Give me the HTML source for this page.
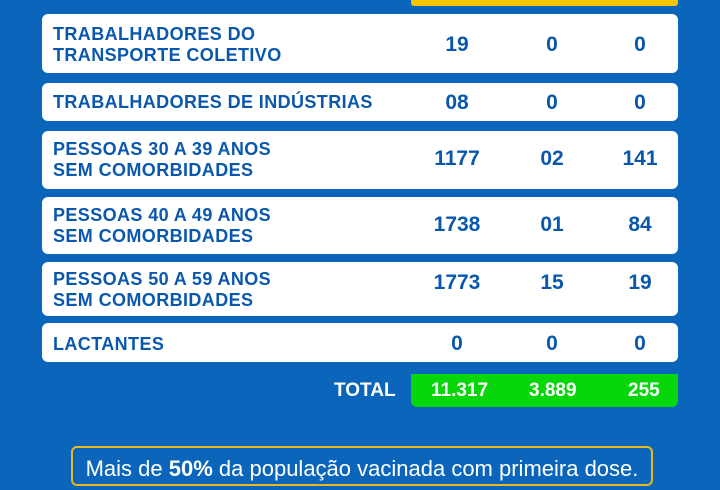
<!DOCTYPE html>
<html><head><meta charset="utf-8"><style>
body{margin:0;width:720px;height:480px;overflow:hidden;background:#0b65ba;font-family:"Liberation Sans",sans-serif;position:relative}
.y{position:absolute;left:411px;top:0;width:267px;height:6px;background:#f7c600;border-radius:0 0 3px 3px}
.r{position:absolute;left:42px;width:636px;background:#fff;border-radius:6px;color:#0a58ad;font-weight:bold}
.l{position:absolute;left:11px;font-size:18px;line-height:21px;letter-spacing:0.4px;top:0}
.n{position:absolute;font-size:21px;width:80px;text-align:center;margin-left:-40px}
.g{position:absolute;left:411px;top:374px;width:267px;height:33px;background:#07d60a;border-radius:0 0 6px 6px;color:#fff;font-weight:bold;font-size:19px}
.t{position:absolute;left:334px;top:380px;color:#fff;font-weight:bold;font-size:19px}
.b{position:absolute;left:71px;top:446px;width:582px;height:40px;border:2px solid #e8b81e;border-radius:6px;color:#fff;font-size:22px;text-align:center;line-height:42px;box-sizing:border-box;white-space:nowrap}
</style></head><body>
<div class="y"></div>
<div class="r" style="top:14px;height:59px"><div class="l" style="top:10px">TRABALHADORES DO<br>TRANSPORTE COLETIVO</div><div class="n" style="left:415px;top:19px">19</div><div class="n" style="left:510px;top:19px">0</div><div class="n" style="left:598px;top:19px">0</div></div>
<div class="r" style="top:83px;height:38px"><div class="l" style="top:9px">TRABALHADORES DE INDÚSTRIAS</div><div class="n" style="left:415px;top:8px">08</div><div class="n" style="left:510px;top:8px">0</div><div class="n" style="left:598px;top:8px">0</div></div>
<div class="r" style="top:131px;height:58px"><div class="l" style="top:8px">PESSOAS 30 A 39 ANOS<br>SEM COMORBIDADES</div><div class="n" style="left:415px;top:16px">1177</div><div class="n" style="left:510px;top:16px">02</div><div class="n" style="left:598px;top:16px">141</div></div>
<div class="r" style="top:197px;height:57px"><div class="l" style="top:8px">PESSOAS 40 A 49 ANOS<br>SEM COMORBIDADES</div><div class="n" style="left:415px;top:16px">1738</div><div class="n" style="left:510px;top:16px">01</div><div class="n" style="left:598px;top:16px">84</div></div>
<div class="r" style="top:262px;height:54px"><div class="l" style="top:7px">PESSOAS 50 A 59 ANOS<br>SEM COMORBIDADES</div><div class="n" style="left:415px;top:9px">1773</div><div class="n" style="left:510px;top:9px">15</div><div class="n" style="left:598px;top:9px">19</div></div>
<div class="r" style="top:323px;height:39px"><div class="l" style="top:11px">LACTANTES</div><div class="n" style="left:415px;top:9px">0</div><div class="n" style="left:510px;top:9px">0</div><div class="n" style="left:598px;top:9px">0</div></div>
<div class="t">TOTAL</div>
<div class="g"><span style="position:absolute;left:20px;top:6px">11.317</span><span style="position:absolute;left:118px;top:6px">3.889</span><span style="position:absolute;left:217px;top:6px">255</span></div>
<div class="b">Mais de <b>50%</b> da população vacinada com primeira dose.</div>
</body></html>
